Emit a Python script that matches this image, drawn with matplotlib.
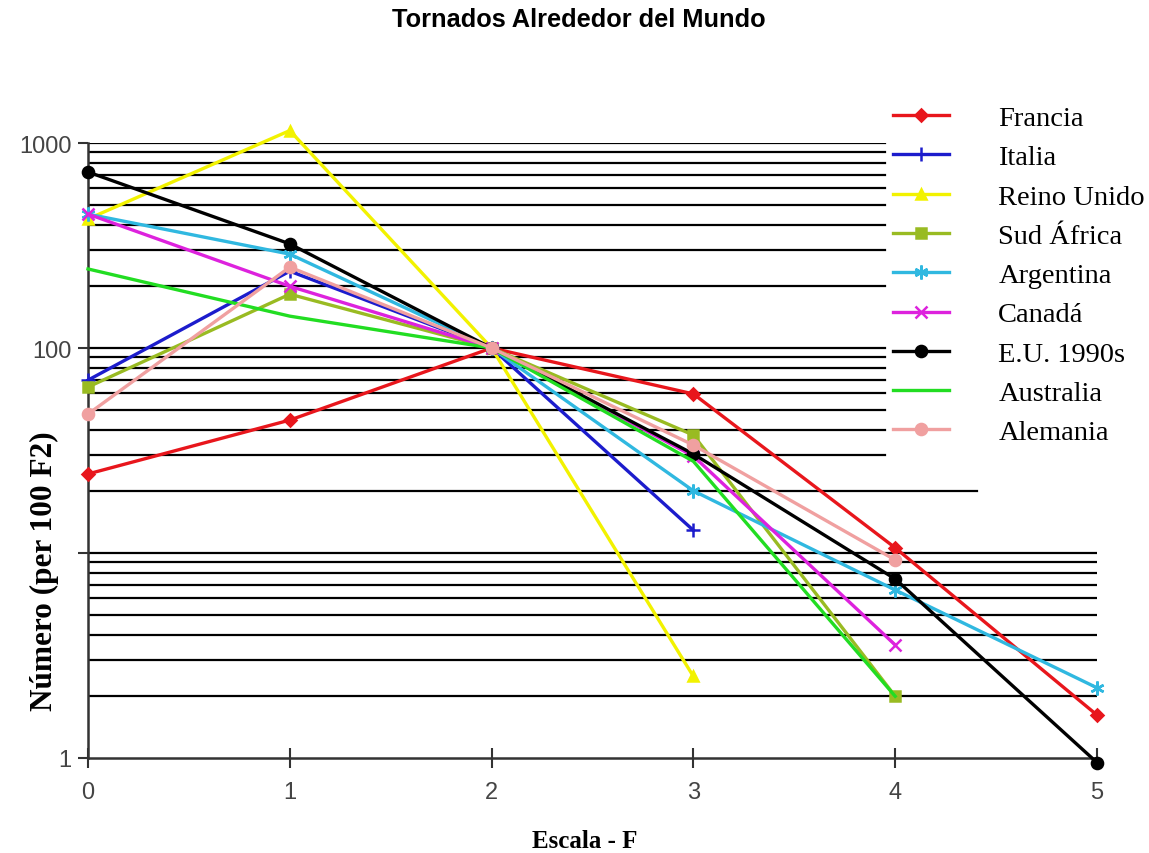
import matplotlib
matplotlib.use("Agg")
import matplotlib.pyplot as plt

# ---- data ----
escala = [0, 1, 2, 3, 4, 5]
francia = [24.3, 44.5, 100, 59.7, 10.6, 1.62]
italia = [69.7, 237, 100, 12.9]
reino_unido = [426, 1150, 100, 2.5]
sud_africa = [64.5, 183, 100, 37.6, 2.0]
argentina = [450, 287, 100, 20.1, 6.6, 2.2]
canada = [450, 200, 100, 29.7, 3.56]
eu_1990s = [722, 322, 100, 30.4, 7.47, 0.95]
australia = [243, 143, 100, 28, 2.0]
alemania = [47.6, 248, 100, 33.6, 9.25]

labels = ["Francia", "Italia", "Reino Unido", "Sud África", "Argentina",
          "Canadá", "E.U. 1990s", "Australia", "Alemania"]
series = [francia, italia, reino_unido, sud_africa, argentina,
          canada, eu_1990s, australia, alemania]
colors = ["#e8161c", "#1c1ccc", "#f2f200", "#99bb22", "#30b8e0",
          "#dd22dd", "#000000", "#22dd22", "#f0a0a0"]
markers = ["D", "+", "^", "s", (6, 2, 0), "x", "o", None, "o"]
msizes = [6, 10, 7, 7, 10, 9, 8, 0, 8]

ytick_vals = [1, 10, 100, 1000]
ytick_labels = ["1", "", "100", "1000"]
grid_vals = [2, 3, 4, 5, 6, 7, 8, 9, 10, 20, 30, 40, 50, 60, 70, 80, 90,
             100, 200, 300, 400, 500, 600, 700, 800, 900, 1000]

W, H = 1149, 854
fig = plt.figure(figsize=(W / 100, H / 100), dpi=100)
L, R, B, T = 88, 1097, 759, 144
ax = fig.add_axes([L / W, 1 - B / H, (R - L) / W, (B - T) / H])
ax.set_yscale("log")
ax.set_xlim(0, 5)
ax.set_ylim(1, 1000)

# horizontal grid lines (partially hidden behind legend area)
for g in grid_vals:
    if g <= 10:
        xm = 1.0
    elif g == 20:
        xm = (977 - L) / (R - L)
    else:
        xm = (885 - L) / (R - L)
    ax.axhline(g, xmin=0, xmax=xm, color="black", lw=1.6, zorder=1)

handles = []
for lab, ys, c, m, ms in zip(labels, series, colors, markers, msizes):
    xs = escala[:len(ys)]
    h, = ax.plot(xs, ys, color=c, lw=2.4, marker=m, markersize=ms,
                 markeredgewidth=1.8, label=lab, clip_on=False, zorder=3)
    handles.append(h)

for s in ["top", "right"]:
    ax.spines[s].set_visible(False)
for s in ["left", "bottom"]:
    ax.spines[s].set_linewidth(1.8)
    ax.spines[s].set_color("#333333")

ax.set_yticks(ytick_vals)
ax.set_yticklabels(ytick_labels)
ax.yaxis.set_minor_locator(matplotlib.ticker.NullLocator())
ax.set_xticks(escala)
ax.tick_params(axis="x", direction="inout", length=15, width=1.5,
               labelsize=17, labelcolor="#444444", pad=9, color="#333333")
ax.tick_params(axis="y", direction="out", length=7, width=1.5,
               labelsize=17, labelcolor="#444444", pad=5, color="#333333")
for t in ax.get_xticklabels() + ax.get_yticklabels():
    t.set_fontfamily("Liberation Sans")

fig.text(579 / W, 1 - 20 / H, "Tornados Alrededor del Mundo", ha="center",
         va="center", fontsize=18.3, fontweight="bold",
         fontfamily="Liberation Sans")
fig.text(585 / W, 1 - 842 / H, "Escala - F", ha="center", va="center",
         fontsize=18, fontweight="bold", fontfamily="Liberation Serif")
fig.text(44 / W, 1 - 571 / H, "Número (per 100 F2)", ha="center",
         va="center", rotation=90, fontsize=22.5, fontweight="bold",
         fontfamily="Liberation Serif")

leg = fig.legend(handles=handles, loc="upper left",
                 bbox_to_anchor=(893 / W, 1 - 106 / H), frameon=False,
                 prop={"family": "Liberation Serif", "size": 20.5},
                 handlelength=1.95, handletextpad=1.75, labelspacing=0.47,
                 borderpad=0, borderaxespad=0, numpoints=1)

fig.savefig("out.png", dpi=100)
